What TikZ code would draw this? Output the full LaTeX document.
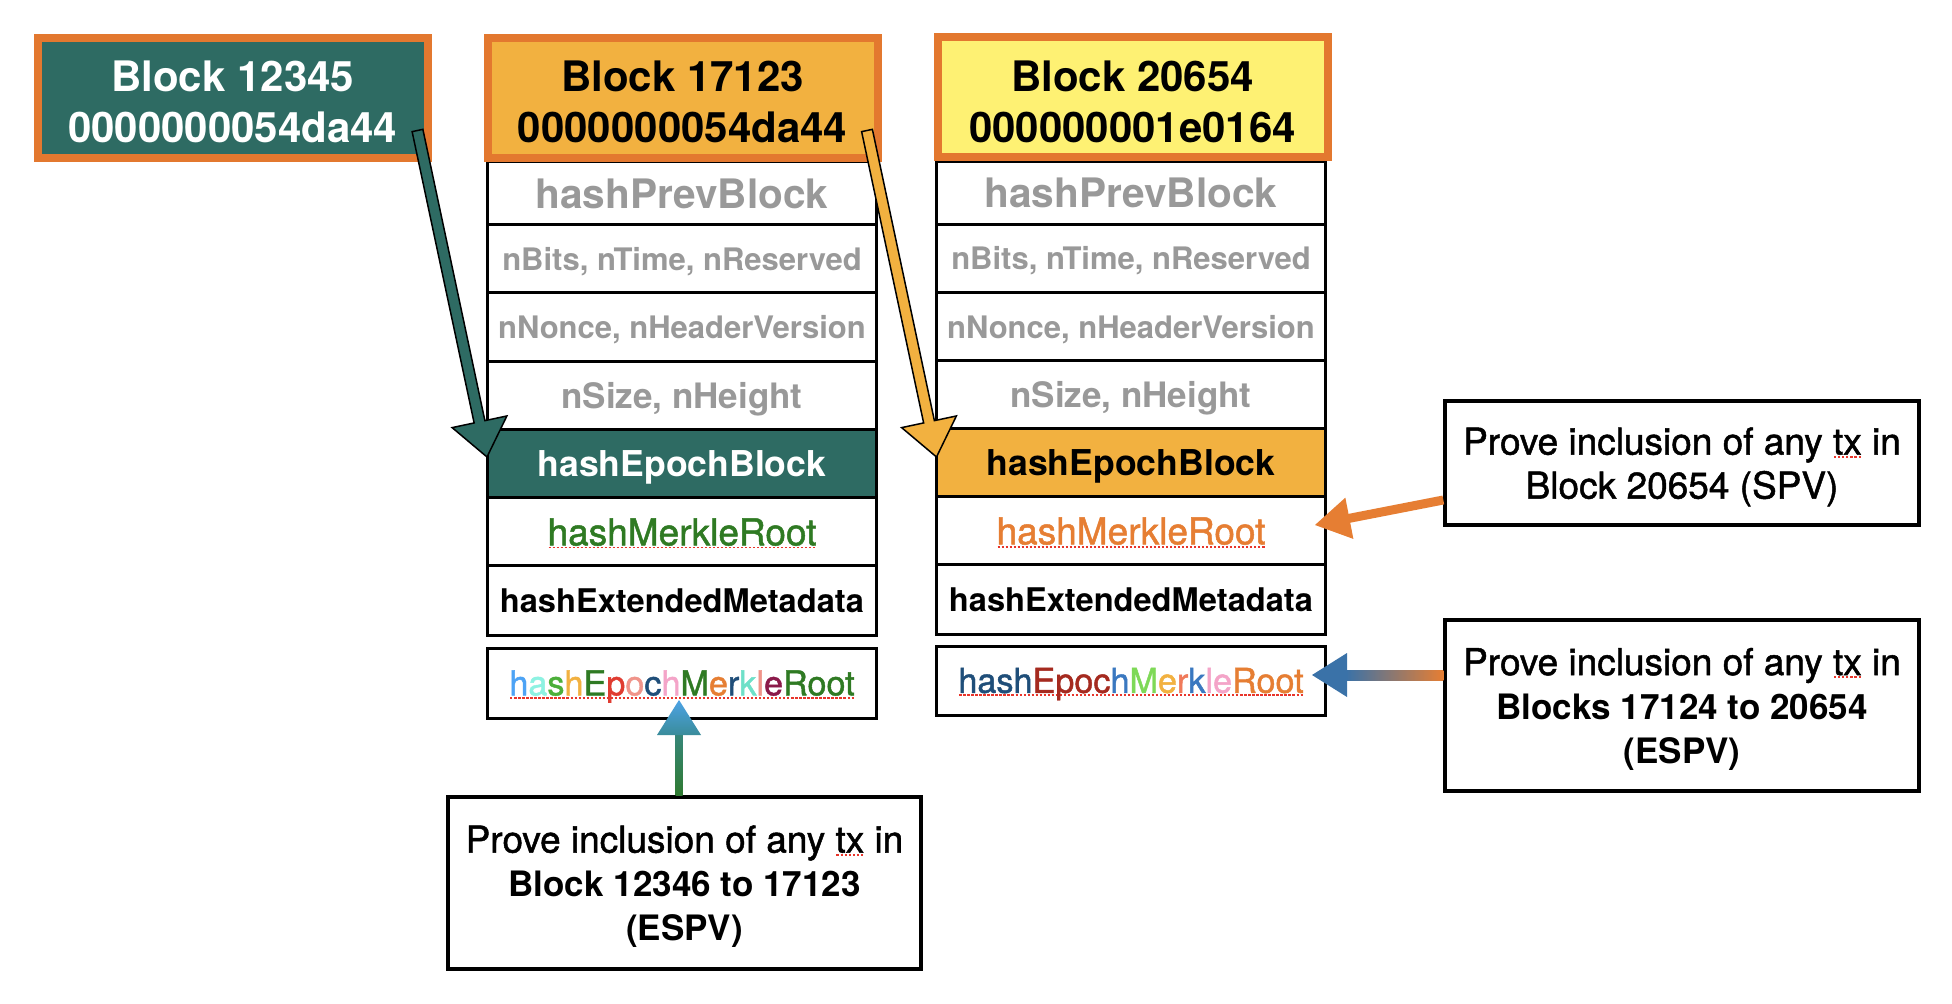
\documentclass[tikz,border=0pt]{standalone}
\usepackage{fontspec}
\setmainfont{TeX Gyre Heros}
\newfontfamily\medf{TeX Gyre Heros}[FakeBold=1.3]
\usetikzlibrary{calc}
\definecolor{teal1}{HTML}{2E6B63}
\definecolor{orb}{HTML}{E3782F}
\definecolor{amber}{HTML}{F2B140}
\definecolor{yel}{HTML}{FEF173}
\definecolor{grayt}{HTML}{999999}
\definecolor{mgreen}{HTML}{2F7A23}
\definecolor{morange}{HTML}{E67E33}
\definecolor{sqred}{HTML}{E8352B}
\definecolor{lb}{HTML}{4DA3F5}
\definecolor{aq}{HTML}{8DF2E2}
\definecolor{gr}{HTML}{4CAF3A}
\definecolor{dg}{HTML}{2F7A23}
\definecolor{rd}{HTML}{E03C31}
\definecolor{sal}{HTML}{F0948A}
\definecolor{nv}{HTML}{1F4E79}
\definecolor{pk}{HTML}{F4A4C8}
\definecolor{mt}{HTML}{6EE0C8}
\definecolor{mr}{HTML}{8B1A4A}
\definecolor{dr}{HTML}{A52A1F}
\definecolor{bl}{HTML}{3A78C0}
\definecolor{lg}{HTML}{7ED957}
\definecolor{sr}{HTML}{F07A5A}
\definecolor{gblue}{HTML}{3A72A8}
\definecolor{ublue}{HTML}{4DA3E6}
\definecolor{uteal}{HTML}{3A8C9A}
\definecolor{ugreen}{HTML}{2F7A30}
\newcommand\mycl[2]{\textcolor{#1}{#2}}
\newcommand\sqline[1]{\setbox0=\hbox{#1}\leavevmode\rlap{\raisebox{-1.6pt}{\color{sqred}\hbox to\wd0{\xleaders\hbox to 2pt{\hss\rule{1.1pt}{0.9pt}\hss}\hfill}}}\box0\relax}
\newcommand\boldline[1]{{\normalfont\bfseries\fontsize{17.5}{22}\selectfont #1}}
\newcommand\barrow[6]{%
  \coordinate (ba-b) at ($(#3)!#5!(#2)$);
  \path[#1] ($(#2)!#4!90:(#3)$) -- ($(ba-b)!#4!90:(#3)$) -- ($(ba-b)!#6!90:(#3)$) -- (#3)
    -- ($(ba-b)!#6!-90:(#3)$) -- ($(ba-b)!#4!-90:(#3)$) -- ($(#2)!#4!-90:(#3)$) -- cycle;}
\tikzset{
  rowbox/.style={draw=black, line width=1.5pt, minimum width=194.5pt, inner sep=0pt, fill=white, text depth=0pt},
  hdr/.style={draw=orb, line width=4pt, minimum width=195pt, minimum height=60pt, align=center,
    inner sep=0pt, text height=45pt, text depth=0pt, font=\bfseries\fontsize{21}{25.5}\selectfont},
  callout/.style={draw=black, line width=1.7pt, minimum width=237pt, align=center, inner sep=0pt,
    fill=white, text depth=0pt, font=\medf\fontsize{18.5}{22}\selectfont},
  fprev/.style={text=grayt, text height=14.6pt, font=\bfseries\fontsize{20.3}{24}\selectfont},
  fsmall/.style={text=grayt, text height=11.2pt, font=\bfseries\fontsize{15.5}{18}\selectfont},
  fsize/.style={text=grayt, text height=12.6pt, font=\bfseries\fontsize{17.5}{21}\selectfont},
  fepoch/.style={text height=12.8pt, font=\bfseries\fontsize{17.8}{21}\selectfont},
  fmerkle/.style={text height=13.3pt, font=\medf\fontsize{18.5}{22}\selectfont},
  fext/.style={text height=11.7pt, font=\bfseries\fontsize{16.3}{20}\selectfont},
  femr/.style={text height=12.3pt, font=\medf\fontsize{17.1}{20}\selectfont},
  outarrow/.style={draw=black, line width=0.75pt, line join=miter},
}
\begin{document}
\begin{tikzpicture}[x=0.5pt,y=-0.5pt]
\useasboundingbox[fill=white] (0,0) rectangle (1952,1004);
% middle column rows
\node[rowbox, fprev, minimum height=31.5pt] (m1) at (682,193.5) {hashPrevBlock};
\node[rowbox, fsmall, minimum height=34pt] (m2) at (682,259) {nBits, nTime, nReserved};
\node[rowbox, fsmall, minimum height=34.5pt] (m3) at (682,327.5) {nNonce, nHeaderVersion};
\node[rowbox, fsize, minimum height=34pt] (m4) at (682,396) {nSize, nHeight};
\node[rowbox, fepoch, minimum height=34pt, fill=teal1, text=white] (m5) at (682,464) {hashEpochBlock};
\node[rowbox, fmerkle, minimum height=34pt, text=mgreen] (m6) at (682,532) {\sqline{hashMerkleRoot}};
\node[rowbox, fext, minimum height=34.5pt] (m7) at (682,600.5) {hashExtendedMetadata};
\node[rowbox, femr, minimum height=35pt] (me) at (682,683) {\sqline{\mycl{lb}{h}\mycl{aq}{a}\mycl{gr}{s}\mycl{amber}{h}\mycl{dg}{E}\mycl{rd}{p}\mycl{sal}{o}\mycl{nv}{c}\mycl{pk}{h}\mycl{dg}{M}\mycl{morange}{e}\mycl{nv}{r}\mycl{mt}{k}\mycl{sal}{l}\mycl{mr}{e}\mycl{dg}{Root}}};
% right column rows
\node[rowbox, fprev, minimum height=31.5pt] (r1) at (1131,193) {hashPrevBlock};
\node[rowbox, fsmall, minimum height=34pt] (r2) at (1131,258.5) {nBits, nTime, nReserved};
\node[rowbox, fsmall, minimum height=34.5pt] (r3) at (1131,327) {nNonce, nHeaderVersion};
\node[rowbox, fsize, minimum height=34pt] (r4) at (1131,395) {nSize, nHeight};
\node[rowbox, fepoch, minimum height=34pt, fill=amber] (r5) at (1131,463) {hashEpochBlock};
\node[rowbox, fmerkle, minimum height=34pt, text=morange] (r6) at (1131,531) {\sqline{hashMerkleRoot}};
\node[rowbox, fext, minimum height=34.5pt] (r7) at (1131,599.5) {hashExtendedMetadata};
\node[rowbox, femr, minimum height=34.5pt] (re) at (1131,680.5) {\sqline{\mycl{nv}{hash}\mycl{dr}{Epoc}\mycl{bl}{h}\mycl{lg}{M}\mycl{amber}{e}\mycl{sr}{r}\mycl{bl}{k}\mycl{pk}{le}\mycl{morange}{Root}}};
% headers
\node[hdr, fill=teal1, text=white] (h1) at (232.7,97.7) {Block 12345\\0000000054da44};
\node[hdr, fill=amber] (h2) at (682.5,97.7) {Block 17123\\0000000054da44};
\node[hdr, fill=yel] (h3) at (1132.5,97.2) {Block 20654\\000000001e0164};
% callouts
\node[callout, minimum height=62pt] (c1) at (1682,463) {Prove inclusion of any \sqline{tx} in\\Block 20654 (SPV)};
\node[callout, minimum height=85.5pt] (c2) at (1682,705.5) {Prove inclusion of any \sqline{tx} in\\\boldline{Blocks 17124 to 20654}\\\boldline{(ESPV)}};
\node[callout, minimum height=86pt, minimum width=236.5pt] (c3) at (684.5,883) {Prove inclusion of any \sqline{tx} in\\\boldline{Block 12346 to 17123}\\\boldline{(ESPV)}};
% arrows
\coordinate (a1s) at (417.5,130.5);
\coordinate (a1t) at (487,457);
\barrow{outarrow, fill=teal1}{a1s}{a1t}{2.75pt}{18pt}{14pt}
\coordinate (a2s) at (867,130.5);
\coordinate (a2t) at (936.5,457);
\barrow{outarrow, fill=amber}{a2s}{a2t}{2.75pt}{18pt}{14pt}
\coordinate (a3s) at (c1.west |- 0,500);
\coordinate (a3t) at (1315,525);
\barrow{fill=morange}{a3s}{a3t}{2.25pt}{17.5pt}{10.5pt}
\coordinate (a4s) at (c2.west |- 0,675);
\coordinate (a4t) at (1312,675);
\shade[left color=gblue, right color=morange] ($(a4t)+(34,-5)$) rectangle ($(a4s)+(0,5)$);
\fill[gblue] ($(a4t)+(35,-22)$) -- (a4t) -- ($(a4t)+(35,22)$) -- cycle;
\coordinate (a5s) at (c3.north -| 679,0);
\coordinate (a5t) at (679,700);
\shade[top color=uteal!70!ugreen, bottom color=ugreen] ($(a5t)+(-3.5,34)$) rectangle ($(a5s)+(3.5,0)$);
\shade[top color=ublue, bottom color=uteal] ($(a5t)+(-22,35)$) -- (a5t) -- ($(a5t)+(22,35)$) -- cycle;
\end{tikzpicture}
\end{document}
